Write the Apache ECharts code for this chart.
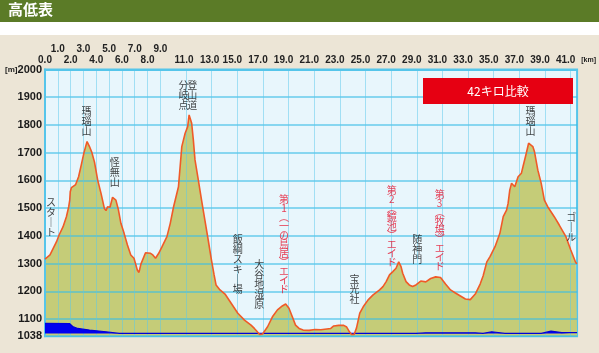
<!DOCTYPE html>
<html><head><meta charset="utf-8">
<script src="https://cdn.jsdelivr.net/npm/echarts@6/dist/echarts.min.js"></script>
<style>html,body{margin:0;padding:0;background:#ece5d6;}#c{width:599px;height:353px;}</style>
</head><body><div id="c"></div>
<script>
// ---- data (km, metres) ----
const profileKm = [0,0.39,0.64,0.90,1.10,1.41,1.67,1.85,1.93,1.97,2.06,2.39,2.62,2.83,3.05,3.28,3.47,3.66,3.86,4.11,4.37,4.63,4.76,4.88,5.07,5.27,5.53,5.73,5.92,6.17,6.43,6.69,6.94,7.20,7.33,7.48,7.84,8.23,8.41,8.62,8.87,9.13,9.51,9.77,10.03,10.41,10.67,10.93,11.13,11.24,11.44,11.57,11.70,11.96,12.21,12.47,12.73,12.98,13.19,13.34,13.65,14.04,14.52,15.04,15.56,16.07,16.33,16.51,16.74,16.97,17.36,17.74,18.13,18.51,18.77,19.03,19.29,19.54,19.82,20.13,20.60,21.06,21.52,21.98,22.29,22.52,22.91,23.30,23.53,23.76,23.91,24.11,24.30,24.55,24.82,25.20,25.59,26.10,26.36,26.61,26.87,27.13,27.38,27.59,27.77,27.90,28.16,28.41,28.67,28.93,29.31,29.70,30.08,30.47,30.85,31.24,31.63,32.01,32.40,32.79,33.17,33.56,33.94,34.17,34.46,34.71,35.10,35.48,35.74,36.00,36.12,36.25,36.39,36.51,36.64,36.77,36.90,37.03,37.16,37.28,37.54,37.72,37.87,38.05,38.18,38.44,38.70,38.95,39.21,39.72,40.11,40.63,41.01,41.40,41.50];
const profileElev = [1316,1331,1355,1379,1403,1433,1469,1505,1529,1559,1574,1585,1613,1656,1702,1740,1722,1700,1666,1601,1553,1499,1491,1505,1503,1539,1529,1493,1445,1409,1367,1331,1319,1277,1268,1298,1339,1337,1331,1319,1337,1361,1397,1445,1505,1577,1722,1770,1794,1836,1806,1746,1674,1601,1529,1457,1385,1313,1259,1223,1205,1190,1157,1121,1096,1078,1066,1057,1044,1046,1072,1108,1133,1147,1154,1139,1108,1078,1066,1060,1059,1062,1061,1064,1066,1075,1077,1077,1071,1053,1044,1044,1068,1121,1144,1169,1187,1205,1217,1235,1259,1271,1283,1306,1289,1265,1235,1223,1217,1223,1237,1234,1246,1252,1250,1226,1205,1194,1183,1172,1170,1190,1226,1255,1306,1325,1361,1409,1469,1493,1517,1565,1590,1583,1577,1595,1613,1608,1626,1649,1698,1734,1738,1722,1703,1637,1590,1529,1505,1469,1439,1397,1349,1303,1300];

const waterKm   = [0,1.93,2.16,2.55,3.47,4.76,5.79,28.93,29.70,33.56,34.17,34.84,35.87,38.70,39.47,40.30,41.50];
const waterElev = [1084,1083,1073,1066,1060,1054,1048,1048,1050,1050,1048,1054,1048,1048,1056,1051,1051];
const waterBase = 1047.5;

const gridKm = [0,1,2,3,4,5,6,7,8,9,11,13,15,17,19,21,23,25,27,29,31,33,35,37,39,41];
const lowerLabelKm = [0,2,4,6,8,11,13,15,17,19,21,23,25,27,29,31,33,35,37,39,41];
const upperLabelKm = [1,3,5,7,9];
const elevTicks = [1038,1100,1200,1300,1400,1500,1600,1700,1800,1900,2000];

const markNames = ['スタート','瑪瑙山','怪無山','分岐点','登山道','飯綱スキー場','大谷地湿原','第1(一の鳥居)エイド','宝光社','第2(鏡池)エイド','随神門','第3(牧場)エイド','瑪瑙山','ゴール'];
const markKm    = [0.46,3.24,5.44,10.80,11.49,15.04,16.72,18.64,24.14,27.04,29.04,30.78,37.87,41.04];
const markElev  = [1541,1870,1685,1962,1962,1407,1317,1551,1263,1581,1407,1569,1870,1486];
const markRed   = [false,false,false,false,false,false,false,true,false,true,false,true,false,false];

// ---- build ----
function vert(s){
  const map={'(':'︵',')':'︶','ー':'｜'};
  return s.split('').map(c=>map[c]||c).join('\n');
}
const zip=(a,b)=>a.map((v,i)=>[v,b[i]]);
const profile = zip(profileKm, profileElev);
const water = zip(waterKm, waterElev);
const marks = markNames.map((n,i)=>({
  value:[markKm[i],markElev[i]],
  name:n,
  label:{
    formatter: vert(n),
    color: markRed[i] ? '#e5102c' : '#111111',
    lineHeight: n.indexOf('(')>=0 ? 9 : 10
  }
}));

const fontFam = '"Liberation Sans", Arial, sans-serif';
const cjk = '"Noto Sans CJK JP", sans-serif';
const chart = echarts.init(document.getElementById('c'), null, {renderer:'canvas'});
chart.setOption({
  animation:false,
  backgroundColor:'#ece5d6',
  grid:{left:45, top:69.5, right:16, bottom:16.8, show:true, backgroundColor:'#e8f6fc', borderColor:'#55c5ea', borderWidth:2},
  xAxis:[{
    type:'value', position:'top', min:0, max:41.5, z:2,
    name:'[km]', nameLocation:'end', nameGap:0,
    nameTextStyle:{fontSize:7, color:'#222', fontFamily:fontFam, fontWeight:'bold', verticalAlign:'bottom', padding:[0,0,6,0]},
    axisLine:{show:true, onZero:false, lineStyle:{color:'#55c5ea', width:2}},
    axisTick:{show:false, customValues:gridKm},
    axisLabel:{customValues:lowerLabelKm, margin:4, fontSize:10, fontWeight:'bold', color:'#222', fontFamily:fontFam,
      formatter:v=>{const t=v.toFixed(1); return v>=15?'{s|'+t+'}':(v>=11?'{m|'+t+'}':t);},
      rich:{s:{padding:[0,10,0,0],fontSize:10,fontWeight:'bold',color:'#222',fontFamily:fontFam}, m:{padding:[0,4,0,0],fontSize:10,fontWeight:'bold',color:'#222',fontFamily:fontFam}}},
    splitLine:{show:true, lineStyle:{color:'rgba(90,200,235,0.5)', width:1}}
  },{
    type:'value', position:'top', offset:11.5, min:0, max:41.5, z:2,
    axisLine:{show:false}, axisTick:{show:false}, splitLine:{show:false},
    axisLabel:{customValues:upperLabelKm, margin:4, fontSize:10, fontWeight:'bold', color:'#222', fontFamily:fontFam, formatter:v=>v.toFixed(1)}
  }],
  yAxis:{
    type:'value', min:1038, max:2000, z:2,
    axisLine:{show:true, onZero:false, lineStyle:{color:'#55c5ea', width:2}},
    axisTick:{show:false, customValues:elevTicks},
    axisLabel:{customValues:elevTicks, margin:3, fontSize:11, fontWeight:'bold', color:'#1a1a1a', fontFamily:fontFam,
      formatter:v=> v===2000 ? '{u|[m]}2000' : String(v),
      rich:{u:{fontSize:8, fontWeight:'bold', color:'#1a1a1a', fontFamily:fontFam}}},
    splitLine:{show:true, lineStyle:{color:'rgba(60,190,230,0.75)', width:1.5}}
  },
  series:[
    {type:'line', data:profile, symbol:'none', z:1, lineStyle:{width:0, opacity:0},
     areaStyle:{color:'#c5cc78', opacity:1, origin:'start'}, silent:true},
    {type:'line', data:water, symbol:'none', z:4, lineStyle:{color:'#0000d8', width:1.2},
     areaStyle:{color:'#0000f0', opacity:1, origin:waterBase}, silent:true},
    {type:'line', data:profile, symbol:'none', z:4, lineStyle:{color:'#f05a28', width:1.6}, silent:true},
    {type:'scatter', data:marks, symbolSize:1, z:5, itemStyle:{color:'rgba(0,0,0,0)'}, silent:true,
     label:{show:true, position:'bottom', distance:0, fontSize:10, fontFamily:cjk, align:'center', verticalAlign:'top'}}
  ],
  graphic:[
    {type:'rect', shape:{x:0,y:0,width:599,height:22}, style:{fill:'#5b7b27'}},
    {type:'rect', shape:{x:0,y:22,width:599,height:13}, style:{fill:'#ffffff'}},
    {type:'text', x:8, y:9, style:{text:'高低表', fill:'#ffffff', fontSize:15, fontWeight:'bold', fontFamily:cjk, verticalAlign:'middle'}},
    {type:'rect', shape:{x:423,y:78,width:150,height:26}, style:{fill:'#e60012'}, z:10},
    {type:'text', x:498, y:91, z:11, style:{text:'42キロ比較', fill:'#ffffff', fontSize:12, fontFamily:cjk, align:'center', verticalAlign:'middle'}}
  ]
});
</script></body></html>
